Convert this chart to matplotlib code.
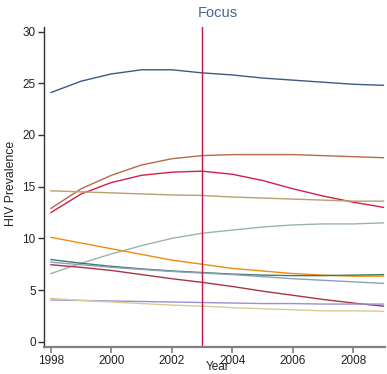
import matplotlib
matplotlib.use('Agg')
import matplotlib.pyplot as plt

plt.rcParams['font.family'] = ['Liberation Sans', 'DejaVu Sans']

years = [1998, 1999, 2000, 2001, 2002, 2003, 2004, 2005, 2006, 2007, 2008, 2009]

# prevalence curves, one per country
navy = [24.1, 25.2, 25.9, 26.3, 26.3, 26.0, 25.8, 25.5, 25.3, 25.1, 24.9, 24.8]
sienna = [12.9, 14.8, 16.1, 17.1, 17.7, 18.0, 18.1, 18.1, 18.1, 18.0, 17.9, 17.8]
crimson = [12.5, 14.3, 15.4, 16.1, 16.4, 16.5, 16.2, 15.6, 14.8, 14.1, 13.5, 13.0]
tan = [14.6, 14.5, 14.4, 14.3, 14.2, 14.15, 14.0, 13.9, 13.8, 13.7, 13.6, 13.6]
sage = [6.6, 7.6, 8.5, 9.3, 10.0, 10.5, 10.8, 11.1, 11.3, 11.4, 11.4, 11.5]
orange = [10.1, 9.55, 9.0, 8.45, 7.9, 7.5, 7.1, 6.85, 6.6, 6.45, 6.35, 6.35]
teal = [7.95, 7.6, 7.3, 7.05, 6.85, 6.7, 6.55, 6.45, 6.4, 6.4, 6.45, 6.5]
bluegray = [7.7, 7.45, 7.2, 7.0, 6.8, 6.65, 6.5, 6.3, 6.1, 5.95, 5.8, 5.65]
maroon = [7.45, 7.2, 6.9, 6.5, 6.1, 5.75, 5.35, 4.9, 4.5, 4.1, 3.75, 3.45]
lavender = [4.05, 4.0, 3.95, 3.9, 3.85, 3.8, 3.75, 3.7, 3.7, 3.65, 3.65, 3.65]
khaki = [4.2, 4.0, 3.85, 3.7, 3.55, 3.45, 3.3, 3.2, 3.1, 3.0, 3.0, 2.95]

series = [navy, sienna, crimson, tan, sage, orange, teal, bluegray, maroon, lavender, khaki]
colors = ['#3b5b7f', '#b86a45', '#d0204c', '#b8a070', '#9ab5a8', '#f08c10',
          '#3d7b6f', '#8ca0b8', '#a83545', '#9c8fd8', '#d8cc95']

focus_year = 2003

fig = plt.figure(figsize=(3.87, 3.74), dpi=100)
ax = fig.add_axes([0.1137, 0.0722, 0.881, 0.856])

for vals, c in zip(series, colors):
    ax.plot(years, vals, color=c, linewidth=1.0)

ax.axvline(focus_year, color='#c8103e', linewidth=1.0)

ax.set_xlim(1997.77, 2009.05)
ax.set_ylim(-0.5, 30.45)
ax.set_xticks([1998, 2000, 2002, 2004, 2006, 2008])
ax.set_yticks([0, 5, 10, 15, 20, 25, 30])

ax.spines['top'].set_visible(False)
ax.spines['right'].set_visible(False)
ax.spines['left'].set_color('#333333')
ax.spines['left'].set_linewidth(1.0)
ax.spines['bottom'].set_color('#808080')
ax.spines['bottom'].set_linewidth(1.6)

ax.tick_params(axis='y', length=4, width=1, color='#333333', labelsize=8.5,
               labelcolor='#222222', pad=2)
ax.tick_params(axis='x', length=4, width=1.2, color='#808080', labelsize=8.5,
               labelcolor='#222222', pad=2)

ax.set_title('Focus', fontsize=10.5, color='#4a6688', x=0.509, pad=7)
ax.set_xlabel('Year', fontsize=8.5, color='#222222')
ax.xaxis.set_label_coords(0.509, -0.045)
ax.set_ylabel('HIV Prevalence', fontsize=8.8, color='#222222')
ax.yaxis.set_label_coords(-0.078, 0.51)

fig.savefig('out.png', dpi=100)
